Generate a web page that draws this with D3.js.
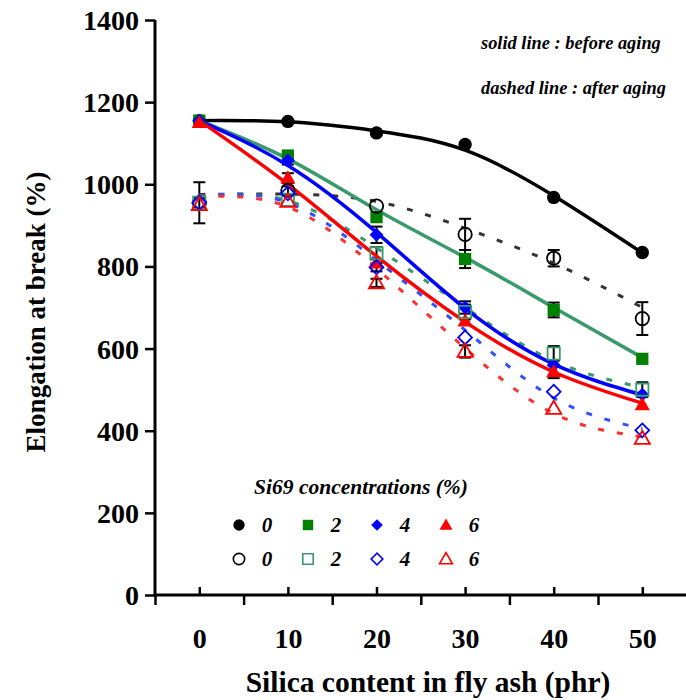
<!DOCTYPE html>
<html><head><meta charset="utf-8">
<script src="https://cdn.jsdelivr.net/npm/d3@7"></script>
<style>
body{margin:0;background:#fff}
svg{display:block}
text{font-family:"Liberation Serif","Times New Roman",serif;font-weight:bold;fill:#000}
</style>
</head><body>
<svg id="chart" width="686" height="700"></svg>
<script>
// ---------- data ----------
const silica = [0, 10, 20, 30, 40, 50];
const xTickValues = [0, 10, 20, 30, 40, 50];
const xMinorTicks = [-5, 5, 15, 25, 35, 45];
const yTickValues = [0, 200, 400, 600, 800, 1000, 1200, 1400];
const concentrations = ["0", "2", "4", "6"];

// measured points (before aging, filled markers)
const before0 = [1155, 1153, 1125, 1097, 968, 834];
const before2 = [1155, 1070, 920, 818, 694, 575];
const before4 = [1155, 1058, 877, 700, 560, 488];
const before6 = [1150, 1015, 808, 667, 543, 463];
// measured points (after aging, open markers)
const after0 = [955, 985, 947, 878, 820, 673];
const after2 = [955, 962, 832, 689, 588, 500];
const after4 = [955, 978, 798, 627, 495, 401];
const after6 = [950, 958, 760, 593, 454, 381];

// error bar half-lengths
const errBefore0 = [0, 0, 0, 0, 0, 0];
const errBefore2 = [0, 0, 0, 22, 18, 0];
const errBefore4 = [0, 10, 20, 15, 0, 0];
const errBefore6 = [0, 12, 0, 0, 15, 0];
const errAfter0 = [50, 10, 0, 38, 20, 40];
const errAfter2 = [0, 0, 15, 18, 18, 18];
const errAfter4 = [0, 0, 10, 0, 0, 0];
const errAfter6 = [0, 0, 10, 15, 0, 0];

// fitted curves
const fitBefore0 = [1155, 1152, 1130, 1083, 972, 833];
const fitBefore2 = [1155, 1062, 938, 822, 700, 578];
const fitBefore4 = [1155, 1046, 883, 698, 562, 487];
const fitBefore6 = [1155, 1000, 825, 665, 543, 467];
const fitAfter0 = [975, 976, 958, 893, 808, 700];
const fitAfter2 = [972, 960, 845, 700, 570, 505];
const fitAfter4 = [972, 955, 815, 645, 480, 405];
const fitAfter6 = [970, 945, 795, 601, 442, 385];

// ---------- layout ----------
const svg = d3.select("#chart");
const x = d3.scaleLinear().domain([-5, 55]).range([155, 686.6]);
const y = d3.scaleLinear().domain([0, 1400]).range([595, 20]);

const green = "#3A9A6C", dkGreen = "#008000", blue = "#0000FF", red = "#FF0000";

const series = [
  {vals: before0, fit: fitBefore0, err: errBefore0, shape: "circle", fill: "#000", stroke: "#000", line: "#000", dash: null},
  {vals: before2, fit: fitBefore2, err: errBefore2, shape: "square", fill: dkGreen, stroke: dkGreen, line: green, dash: null},
  {vals: before4, fit: fitBefore4, err: errBefore4, shape: "diamond", fill: blue, stroke: blue, line: blue, dash: null},
  {vals: before6, fit: fitBefore6, err: errBefore6, shape: "triangle", fill: red, stroke: red, line: red, dash: null},
  {vals: after0, fit: fitAfter0, err: errAfter0, shape: "circle", fill: "none", stroke: "#000", line: "#333", dash: "6,13"},
  {vals: after2, fit: fitAfter2, err: errAfter2, shape: "square", fill: "none", stroke: green, line: green, dash: "6,13"},
  {vals: after4, fit: fitAfter4, err: errAfter4, shape: "diamond", fill: "none", stroke: blue, line: "#3050FF", dash: "6,13"},
  {vals: after6, fit: fitAfter6, err: errAfter6, shape: "triangle", fill: "none", stroke: red, line: "#FF3030", dash: "6,13"}
];

function symbolPath(shape, scale) {
  const s = scale || 1;
  if (shape === "circle") return d3.symbol(d3.symbolCircle, 140 * s * s)();
  if (shape === "square") return d3.symbol(d3.symbolSquare, 150 * s * s)();
  if (shape === "diamond") return d3.symbol(d3.symbolSquare, 95 * s * s)();
  return d3.symbol(d3.symbolTriangle, 100 * s * s)();
}
function symbolTransform(shape, px, py) {
  if (shape === "diamond") return `translate(${px},${py}) rotate(45)`;
  if (shape === "triangle") return `translate(${px},${py + 1})`;
  return `translate(${px},${py})`;
}

// ---------- axes ----------
const yAxis = d3.axisLeft(y).tickValues(yTickValues).tickSize(10).tickPadding(6).tickFormat(d3.format("d"));
const gy = svg.append("g").attr("transform", `translate(${x(-5)},0)`).call(yAxis);
gy.select(".domain").attr("stroke-width", 3).attr("d", `M0,${y(1400)}V${y(0)}`);
gy.selectAll(".tick line").attr("stroke-width", 2.5);
gy.selectAll(".tick text").style("font-size", "28px").style("font-family", "'Liberation Serif',serif").style("font-weight", "bold").attr("dy", "0.34em");

const xAxisMinor = d3.axisBottom(x).tickValues(xMinorTicks).tickSize(10).tickFormat("");
const gxm = svg.append("g").attr("transform", `translate(0,${y(0)})`).call(xAxisMinor);
gxm.select(".domain").attr("stroke-width", 3).attr("d", `M${x(-5)},0H${x(55)}`);
gxm.selectAll(".tick line").attr("stroke-width", 2.5);

const xAxis = d3.axisBottom(x).tickValues(xTickValues).tickSize(-8).tickPadding(33);
const gx = svg.append("g").attr("transform", `translate(0,${y(0)})`).call(xAxis);
gx.select(".domain").remove();
gx.selectAll(".tick line").attr("stroke-width", 2.5);
gx.selectAll(".tick text").style("font-size", "28px").style("font-family", "'Liberation Serif',serif").style("font-weight", "bold");

// axis titles
svg.append("text").attr("x", 428).attr("y", 692).attr("text-anchor", "middle")
  .style("font-size", "29.5px").text("Silica content in fly ash (phr)");
svg.append("text").attr("transform", "translate(45,312) rotate(-90)").attr("text-anchor", "middle")
  .style("font-size", "27px").text("Elongation at break (%)");

// ---------- annotations ----------
svg.append("text").attr("x", 481).attr("y", 49).style("font-size", "18.4px").style("font-style", "italic")
  .text("solid line : before aging");
svg.append("text").attr("x", 481).attr("y", 94).style("font-size", "18.4px").style("font-style", "italic")
  .text("dashed line : after aging");

// ---------- error bars ----------
const gErr = svg.append("g");
series.forEach(s => {
  silica.forEach((sx, i) => {
    const e = s.err[i];
    if (!e) return;
    const px = x(sx), y0 = y(s.vals[i] - e), y1 = y(s.vals[i] + e);
    gErr.append("line").attr("x1", px).attr("x2", px).attr("y1", y0).attr("y2", y1).attr("stroke", "#000").attr("stroke-width", 2);
    gErr.append("line").attr("x1", px - 6).attr("x2", px + 6).attr("y1", y0).attr("y2", y0).attr("stroke", "#000").attr("stroke-width", 2);
    gErr.append("line").attr("x1", px - 6).attr("x2", px + 6).attr("y1", y1).attr("y2", y1).attr("stroke", "#000").attr("stroke-width", 2);
  });
});

// ---------- lines ----------
const lineGen = d3.line().x((d, i) => x(silica[i])).y(d => y(d)).curve(d3.curveNatural);
// dashed first, then solid
series.slice().sort((a, b) => (b.dash ? 1 : 0) - (a.dash ? 1 : 0)).forEach(s => {
  svg.append("path").attr("d", lineGen(s.fit)).attr("fill", "none")
    .attr("stroke", s.line).attr("stroke-width", s.dash ? 3 : 3.5)
    .attr("stroke-dasharray", s.dash);
});

// ---------- markers ----------
series.forEach(s => {
  svg.append("g").selectAll("path").data(s.vals).join("path")
    .attr("d", symbolPath(s.shape))
    .attr("transform", (d, i) => symbolTransform(s.shape, x(silica[i]), y(d)))
    .attr("fill", s.fill).attr("stroke", s.stroke).attr("stroke-width", s.fill === "none" ? 1.8 : 0);
});

// ---------- legend ----------
svg.append("text").attr("x", 361).attr("y", 494).attr("text-anchor", "middle")
  .style("font-size", "21.5px").style("font-style", "italic").text("Si69 concentrations (%)");
const legX = [239, 308, 377, 446];
const legRowY = [525, 559];
[series.slice(0, 4), series.slice(4)].forEach((row, r) => {
  row.forEach((s, j) => {
    svg.append("path").attr("d", symbolPath(s.shape, 0.85))
      .attr("transform", symbolTransform(s.shape, legX[j], legRowY[r]))
      .attr("fill", s.fill).attr("stroke", s.stroke).attr("stroke-width", s.fill === "none" ? 1.6 : 0);
    svg.append("text").attr("x", legX[j] + 28).attr("y", legRowY[r] + 7).attr("text-anchor", "middle")
      .style("font-size", "21px").style("font-style", "italic").text(concentrations[j]);
  });
});
</script>
</body></html>
